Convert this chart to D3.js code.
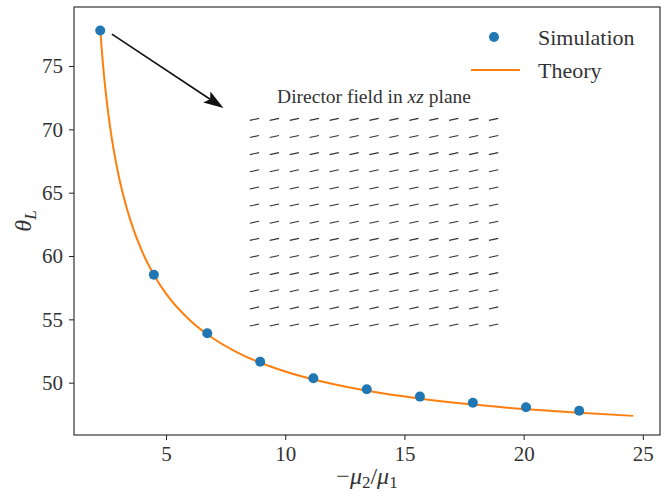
<!DOCTYPE html>
<html>
<head>
<meta charset="utf-8">
<script src="https://cdn.jsdelivr.net/npm/d3@7"></script>
<style>
  body { margin: 0; background: #fff; }
</style>
</head>
<body>
<svg id="chart" width="666" height="493"></svg>
<script>
// DATA
const simX = [2.24, 4.49, 6.73, 8.95, 11.18, 13.42, 15.65, 17.87, 20.1, 22.33];
const simY = [77.81, 58.52, 53.9, 51.66, 50.35, 49.48, 48.9, 48.42, 48.06, 47.79];

const theoryX = [2.24, 2.3, 2.4, 2.5, 2.65, 2.8, 3.0, 3.25, 3.5, 4.0, 4.5, 5.0, 6.0, 7.0, 8.0, 10, 12, 14, 16, 18, 20, 22, 24.6];
const theoryY = [77.99, 76.4, 74.22, 72.44, 70.24, 68.44, 66.46, 64.48, 62.85, 60.34, 58.49, 57.03, 54.93, 53.47, 52.38, 50.88, 49.89, 49.18, 48.66, 48.25, 47.92, 47.66, 47.38];

const xTicks = [5, 10, 15, 20, 25];
const yTicks = [50, 55, 60, 65, 70, 75];

// director field: 13 x 13 grid, all at the same tilt (deg from horizontal)
const fieldCols = d3.range(13);
const fieldRows = d3.range(13);
const fieldAngle = 12.2;

// arrow annotation (data coords)
const arrowFrom = [2.73, 77.52];
const arrowTo = [7.41, 71.68];

const serif = '"Liberation Serif", "DejaVu Serif", serif';

// CANVAS SETUP
const svg = d3.select("#chart").attr("font-family", serif);
const margin = { top: 7, right: 6, bottom: 58, left: 74 };
const width = 666 - margin.left - margin.right,
  height = 493 - margin.top - margin.bottom;

const g = svg.append("g").attr("transform", `translate(${margin.left},${margin.top})`);

const x = d3.scaleLinear().domain([1.14, 25.72]).range([0, width]);
const y = d3.scaleLinear().domain([45.87, 79.66]).range([height, 0]);

// axes
const gx = g.append("g")
  .attr("transform", `translate(0,${height})`)
  .call(d3.axisBottom(x).tickValues(xTicks).tickSize(5).tickPadding(6).tickFormat(d3.format("d")));
const gy = g.append("g")
  .call(d3.axisLeft(y).tickValues(yTicks).tickSize(5).tickPadding(6).tickFormat(d3.format("d")));

[gx, gy].forEach((a) => {
  a.attr("font-family", serif);
  a.select(".domain").remove();
  a.selectAll("line").attr("stroke", "#222").attr("stroke-width", 1);
  a.selectAll("text").style("font-size", "21px").style("font-family", serif).attr("fill", "#333");
});

g.append("rect")
  .attr("width", width)
  .attr("height", height)
  .attr("fill", "none")
  .attr("stroke", "#222")
  .attr("stroke-width", 1.1);

// director field inset
const fx = d3.scaleLinear().domain([0, 12]).range([x(8.71), x(18.74)]);
const fy = d3.scaleLinear().domain([0, 12]).range([y(70.79), y(54.55)]);
const segLen = 9.5;
const ang = (fieldAngle * Math.PI) / 180;
const dx = (segLen / 2) * Math.cos(ang),
  dy = (segLen / 2) * Math.sin(ang);

const cells = [];
fieldRows.forEach((r) => fieldCols.forEach((c) => cells.push({ r, c })));

g.append("g")
  .selectAll("line")
  .data(cells)
  .join("line")
  .attr("x1", (d) => fx(d.c) - dx)
  .attr("y1", (d) => fy(d.r) + dy)
  .attr("x2", (d) => fx(d.c) + dx)
  .attr("y2", (d) => fy(d.r) - dy)
  .attr("stroke", "#333")
  .attr("stroke-width", 1.1);

const title = g.append("text")
  .attr("x", (fx(0) + fx(12)) / 2)
  .attr("y", fy(0) - 16)
  .attr("text-anchor", "middle")
  .style("font-size", "19.5px")
  .style("font-family", serif)
  .attr("fill", "#333");
title.append("tspan").text("Director field in ");
title.append("tspan").attr("font-style", "italic").text("xz");
title.append("tspan").text(" plane");

// arrow
const ax0 = x(arrowFrom[0]), ay0 = y(arrowFrom[1]);
const ax1 = x(arrowTo[0]), ay1 = y(arrowTo[1]);
const theta = Math.atan2(ay1 - ay0, ax1 - ax0);
const headL = 20, headW = 6.5;
const bx = ax1 - headL * Math.cos(theta), by = ay1 - headL * Math.sin(theta);
const nx = -Math.sin(theta), ny = Math.cos(theta);
const ix = ax1 - headL * 0.8 * Math.cos(theta), iy = ay1 - headL * 0.8 * Math.sin(theta);

g.append("line")
  .attr("x1", ax0).attr("y1", ay0)
  .attr("x2", ix).attr("y2", iy)
  .attr("stroke", "#111")
  .attr("stroke-width", 1.6);
g.append("path")
  .attr("d", `M${ax1},${ay1} L${bx + nx * headW},${by + ny * headW} L${ix},${iy} L${bx - nx * headW},${by - ny * headW} Z`)
  .attr("fill", "#111");

// theory curve
const theory = theoryX.map((v, i) => [v, theoryY[i]]);
g.append("path")
  .datum(theory)
  .attr("fill", "none")
  .attr("stroke", "#ff7f0e")
  .attr("stroke-width", 2)
  .attr("d", d3.line().x((d) => x(d[0])).y((d) => y(d[1])).curve(d3.curveMonotoneX));

// simulation points
g.append("g")
  .selectAll("circle")
  .data(simX.map((v, i) => [v, simY[i]]))
  .join("circle")
  .attr("cx", (d) => x(d[0]))
  .attr("cy", (d) => y(d[1]))
  .attr("r", 5)
  .attr("fill", "#1f77b4");

// legend
const lg = g.append("g").attr("transform", `translate(${494 - margin.left},${37 - margin.top})`);
lg.append("circle").attr("cx", 0).attr("cy", 0).attr("r", 5).attr("fill", "#1f77b4");
lg.append("line")
  .attr("x1", -23).attr("x2", 26)
  .attr("y1", 33).attr("y2", 33)
  .attr("stroke", "#ff7f0e").attr("stroke-width", 2);
lg.append("text").attr("x", 44).attr("y", 8).style("font-size", "22px").style("font-family", serif).attr("fill", "#333").text("Simulation");
lg.append("text").attr("x", 44).attr("y", 41).style("font-size", "22px").style("font-family", serif).attr("fill", "#333").text("Theory");

// axis labels
const xl = svg.append("text")
  .attr("x", margin.left + width / 2)
  .attr("y", 484)
  .attr("text-anchor", "middle")
  .style("font-size", "24px")
  .style("font-family", serif)
  .attr("fill", "#333");
xl.append("tspan").text("\u2212");
xl.append("tspan").attr("font-style", "italic").text("\u03bc");
xl.append("tspan").attr("font-size", "17px").attr("dy", 4).text("2");
xl.append("tspan").attr("dy", -4).text("/");
xl.append("tspan").attr("font-style", "italic").text("\u03bc");
xl.append("tspan").attr("font-size", "17px").attr("dy", 4).text("1");

const yl = svg.append("text")
  .attr("transform", `translate(31,${margin.top + height / 2}) rotate(-90)`)
  .attr("text-anchor", "middle")
  .style("font-size", "24px")
  .style("font-family", serif)
  .attr("fill", "#333");
yl.append("tspan").attr("font-style", "italic").text("\u03b8");
yl.append("tspan").attr("font-size", "17px").attr("font-style", "italic").attr("dy", 5).text("L");
</script>
</body>
</html>
